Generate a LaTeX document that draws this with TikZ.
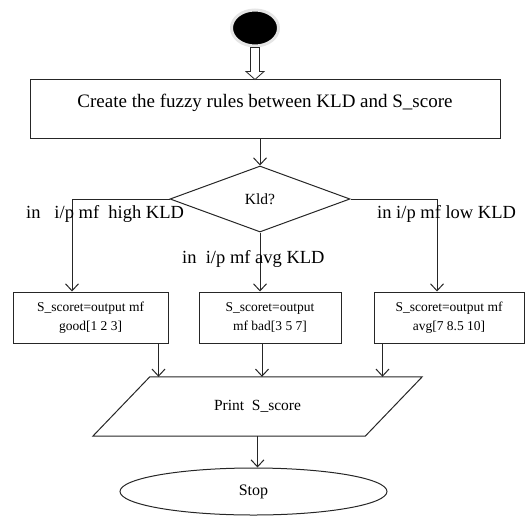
\documentclass[tikz,border=0pt]{standalone}
\usepackage{fontspec}
\setmainfont{Liberation Serif}
\usetikzlibrary{positioning,arrows.meta,shapes.geometric,calc}

\begin{document}
\begin{tikzpicture}[x=1pt, y=-1pt,
  line/.style={draw=black!85, line width=1pt},
  flow/.style={line, -{Straight Barb[length=7pt,width=13pt,line width=1pt]}},
  outbox/.style={line, minimum height=51pt, inner sep=2pt, align=center, font=\fontsize{13.5}{19}\selectfont},
  lbl/.style={anchor=west, inner sep=0pt, font=\fontsize{18.5}{22}\selectfont}]
\useasboundingbox (0,0) rectangle (526,516);
% Start
\node[ellipse, fill=black, draw=gray!20, line width=3pt, minimum width=47pt, minimum height=36pt] (start) at (255,28) {};
% Rules
\node[line, minimum width=470pt, minimum height=58pt, text height=13pt, text depth=17pt, inner sep=0pt, font=\fontsize{19}{23}\selectfont] (rules) at (265,109) {Create the fuzzy rules between KLD and S\_score};
% Hollow arrow
\coordinate (tip) at (start.south |- rules.north);
\draw[line, line width=0.8pt, fill=white] (tip) -- ++(9,-8) -- ++(-4.5,0) -- ++(0,-24) -- ++(-9,0) -- ++(0,24) -- ++(-4.5,0) -- cycle;
% Decision
\node[diamond, line, minimum width=180pt, minimum height=66pt, inner sep=0pt, font=\fontsize{15.5}{19}\selectfont] (check) at (260,199) {Kld?};
\draw[flow] (rules.south -| check.north) -- (check.north);
% Outputs
\node[outbox, minimum width=155pt] (good) at (90.5,317.5) {S\_scoret=output mf\\good[1 2 3]};
\node[outbox, minimum width=142pt] (bad) at (270,317.5) {S\_scoret=output\\mf bad[3 5 7]};
\node[outbox, minimum width=150pt] (avg) at (449,317.5) {S\_scoret=output mf\\avg[7 8.5 10]};
% Branches
\draw[flow] (check.west) -| ([xshift=-18.5pt]good.north);
\draw[flow] (check.south) -- (check.south |- bad.north);
\draw[flow] (check.east) -| ([xshift=-12pt]avg.north);
\node[lbl] (lhigh) at (26,214) {in\hspace{0.75em}i/p mf\hspace{0.5em}high KLD};
\node[lbl] (llow) at (377,214) {in i/p mf low KLD};
\node[lbl] (lavg) at (182,259) {in\hspace{0.5em}i/p mf avg KLD};
% Print (parallelogram) and stop
\node[minimum width=272pt, minimum height=59pt, inner sep=0pt, font=\fontsize{15.5}{19}\selectfont] (print) at (257.5,406.5) {Print\hspace{0.5em}S\_score};
\draw[line] ([xshift=28.5pt]print.north west) -- ([xshift=28.5pt]print.north east) -- ([xshift=-28.5pt]print.south east) -- ([xshift=-28.5pt]print.south west) -- cycle;
\node[ellipse, line, minimum width=267pt, minimum height=47pt, font=\fontsize{16}{19}\selectfont] (stop) at (253.5,491.5) {Stop};
\coordinate (g1) at ([xshift=-10pt]good.south east);
\coordinate (b1) at ([xshift=-8pt]bad.south);
\coordinate (a1) at ([xshift=9pt]avg.south west);
\draw[flow] (g1) -- (g1 |- print.north);
\draw[flow] (b1) -- (b1 |- print.north);
\draw[flow] (a1) -- (a1 |- print.north);
\draw[flow] (print.south) -- (print.south |- stop.north);
\end{tikzpicture}
\end{document}
